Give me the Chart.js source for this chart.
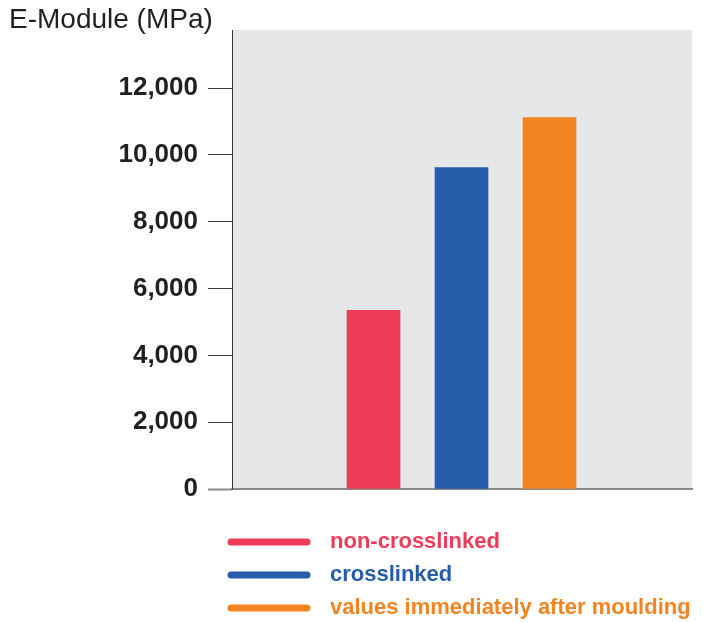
<!DOCTYPE html>
<html>
<head>
<meta charset="utf-8">
<script src="https://cdn.jsdelivr.net/npm/chart.js@4"></script>
<style>
  html, body { margin: 0; padding: 0; background: #fff; }
  #wrap { width: 703px; height: 622px; }
</style>
</head>
<body>
<div id="wrap"><canvas id="chart"></canvas></div>
<script>
const categories = ['non-crosslinked', 'crosslinked', 'values immediately after moulding'];
const values = [5350, 9620, 11120];
const colors = ['#ee3c58', '#265dab', '#f38422'];
const yTicks = [0, 2000, 4000, 6000, 8000, 10000, 12000];
const yTitle = 'E-Module (MPa)';

// grey plot background
const plotBg = {
    id: 'plotBg',
    beforeDraw(chart) {
        const { ctx, chartArea: a } = chart;
        ctx.save();
        ctx.fillStyle = '#e6e7e8';
        ctx.fillRect(a.left, a.top, a.right - a.left, a.bottom - a.top);
        ctx.restore();
    }
};

// axis title top-left + legend with line swatches
const extras = {
    id: 'extras',
    afterDraw(chart) {
        const ctx = chart.ctx;
        ctx.save();
        ctx.fillStyle = '#231f20';
        ctx.font = '28px "Liberation Sans", Arial, sans-serif';
        ctx.textBaseline = 'middle';
        ctx.textAlign = 'left';
        ctx.fillText(yTitle, 9, 20);

        ctx.font = 'bold 22px "Liberation Sans", Arial, sans-serif';
        categories.forEach(function(c, i) {
            const y = 542 + i * 33;
            ctx.strokeStyle = colors[i];
            ctx.lineWidth = 7;
            ctx.lineCap = 'round';
            ctx.beginPath();
            ctx.moveTo(231, y);
            ctx.lineTo(307, y);
            ctx.stroke();
            ctx.fillStyle = colors[i];
            ctx.fillText(c, 330, y);
        });
        ctx.restore();
    }
};

const ctx = document.getElementById('chart').getContext('2d');
const chart = new Chart(ctx, {
    type: 'bar',
    data: {
        datasets: [{
            label: yTitle,
            data: values.map(function(v, i) { return { x: i + 1, y: v }; }),
            backgroundColor: colors,
            borderWidth: 0,
            barThickness: 53
        }]
    },
    options: {
        responsive: true,
        maintainAspectRatio: false,
        animation: false,
        layout: { padding: { top: 30, right: 11, bottom: 133, left: 0 } },
        plugins: {
            legend: { display: false },
            tooltip: { enabled: false }
        },
        scales: {
            x: {
                type: 'linear',
                offset: false,
                min: -0.608,
                max: 4.619,
                ticks: { display: false },
                grid: { display: false, offset: false },
                border: { display: true, color: '#8a8a8a', width: 2 },
                afterFit(scale) { scale.height = 0; }
            },
            y: {
                min: 0,
                max: 13740,
                afterBuildTicks(scale) {
                    scale.ticks = yTicks.map(function(v) { return { value: v }; });
                },
                ticks: {
                    color: '#231f20',
                    padding: 10,
                    font: { family: '"Liberation Sans", Arial, sans-serif', size: 26, weight: 'bold' },
                    callback: function(v) { return v.toLocaleString('en-US'); }
                },
                grid: {
                    drawOnChartArea: false,
                    drawTicks: true,
                    tickLength: 24,
                    tickColor: function(c) { return c.tick && c.tick.value === 0 ? '#8a8a8a' : '#3a3a3a'; },
                    tickWidth: function(c) { return c.tick && c.tick.value === 0 ? 2 : 1; }
                },
                border: { display: true, color: '#3a3a3a', width: 1 },
                afterFit(scale) { scale.width = 232; }
            }
        }
    },
    plugins: [plotBg, extras]
});
</script>
</body>
</html>
